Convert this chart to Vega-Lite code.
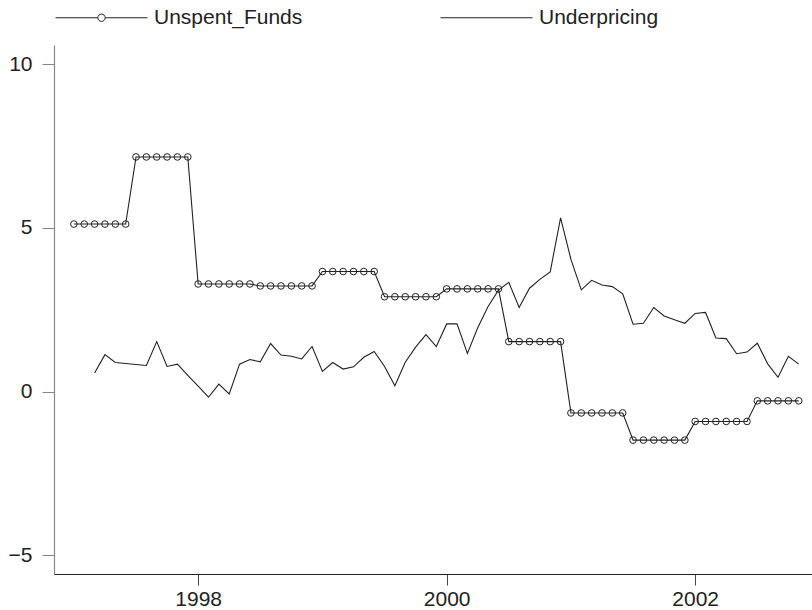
{
  "$schema": "https://vega.github.io/schema/vega-lite/v6.json",
  "width": 758,
  "height": 529,
  "autosize": "none",
  "padding": {"left": 54, "top": 45, "right": 0, "bottom": 36},
  "background": "white",
  "config": {"view": {"stroke": null}, "font": "Liberation Sans"},
  "datasets": {
    "unspent": [
      {"date": 1997.0, "series": "Unspent_Funds", "value": 5.12},
      {"date": 1997.0833, "series": "Unspent_Funds", "value": 5.12},
      {"date": 1997.1667, "series": "Unspent_Funds", "value": 5.12},
      {"date": 1997.25, "series": "Unspent_Funds", "value": 5.12},
      {"date": 1997.3333, "series": "Unspent_Funds", "value": 5.12},
      {"date": 1997.4167, "series": "Unspent_Funds", "value": 5.12},
      {"date": 1997.5, "series": "Unspent_Funds", "value": 7.17},
      {"date": 1997.5833, "series": "Unspent_Funds", "value": 7.17},
      {"date": 1997.6667, "series": "Unspent_Funds", "value": 7.17},
      {"date": 1997.75, "series": "Unspent_Funds", "value": 7.17},
      {"date": 1997.8333, "series": "Unspent_Funds", "value": 7.17},
      {"date": 1997.9167, "series": "Unspent_Funds", "value": 7.17},
      {"date": 1998.0, "series": "Unspent_Funds", "value": 3.29},
      {"date": 1998.0833, "series": "Unspent_Funds", "value": 3.29},
      {"date": 1998.1667, "series": "Unspent_Funds", "value": 3.29},
      {"date": 1998.25, "series": "Unspent_Funds", "value": 3.29},
      {"date": 1998.3333, "series": "Unspent_Funds", "value": 3.29},
      {"date": 1998.4167, "series": "Unspent_Funds", "value": 3.29},
      {"date": 1998.5, "series": "Unspent_Funds", "value": 3.23},
      {"date": 1998.5833, "series": "Unspent_Funds", "value": 3.23},
      {"date": 1998.6667, "series": "Unspent_Funds", "value": 3.23},
      {"date": 1998.75, "series": "Unspent_Funds", "value": 3.23},
      {"date": 1998.8333, "series": "Unspent_Funds", "value": 3.23},
      {"date": 1998.9167, "series": "Unspent_Funds", "value": 3.23},
      {"date": 1999.0, "series": "Unspent_Funds", "value": 3.67},
      {"date": 1999.0833, "series": "Unspent_Funds", "value": 3.67},
      {"date": 1999.1667, "series": "Unspent_Funds", "value": 3.67},
      {"date": 1999.25, "series": "Unspent_Funds", "value": 3.67},
      {"date": 1999.3333, "series": "Unspent_Funds", "value": 3.67},
      {"date": 1999.4167, "series": "Unspent_Funds", "value": 3.67},
      {"date": 1999.5, "series": "Unspent_Funds", "value": 2.9},
      {"date": 1999.5833, "series": "Unspent_Funds", "value": 2.9},
      {"date": 1999.6667, "series": "Unspent_Funds", "value": 2.9},
      {"date": 1999.75, "series": "Unspent_Funds", "value": 2.9},
      {"date": 1999.8333, "series": "Unspent_Funds", "value": 2.9},
      {"date": 1999.9167, "series": "Unspent_Funds", "value": 2.9},
      {"date": 2000.0, "series": "Unspent_Funds", "value": 3.14},
      {"date": 2000.0833, "series": "Unspent_Funds", "value": 3.14},
      {"date": 2000.1667, "series": "Unspent_Funds", "value": 3.14},
      {"date": 2000.25, "series": "Unspent_Funds", "value": 3.14},
      {"date": 2000.3333, "series": "Unspent_Funds", "value": 3.14},
      {"date": 2000.4167, "series": "Unspent_Funds", "value": 3.14},
      {"date": 2000.5, "series": "Unspent_Funds", "value": 1.53},
      {"date": 2000.5833, "series": "Unspent_Funds", "value": 1.53},
      {"date": 2000.6667, "series": "Unspent_Funds", "value": 1.53},
      {"date": 2000.75, "series": "Unspent_Funds", "value": 1.53},
      {"date": 2000.8333, "series": "Unspent_Funds", "value": 1.53},
      {"date": 2000.9167, "series": "Unspent_Funds", "value": 1.53},
      {"date": 2001.0, "series": "Unspent_Funds", "value": -0.65},
      {"date": 2001.0833, "series": "Unspent_Funds", "value": -0.65},
      {"date": 2001.1667, "series": "Unspent_Funds", "value": -0.65},
      {"date": 2001.25, "series": "Unspent_Funds", "value": -0.65},
      {"date": 2001.3333, "series": "Unspent_Funds", "value": -0.65},
      {"date": 2001.4167, "series": "Unspent_Funds", "value": -0.65},
      {"date": 2001.5, "series": "Unspent_Funds", "value": -1.48},
      {"date": 2001.5833, "series": "Unspent_Funds", "value": -1.48},
      {"date": 2001.6667, "series": "Unspent_Funds", "value": -1.48},
      {"date": 2001.75, "series": "Unspent_Funds", "value": -1.48},
      {"date": 2001.8333, "series": "Unspent_Funds", "value": -1.48},
      {"date": 2001.9167, "series": "Unspent_Funds", "value": -1.48},
      {"date": 2002.0, "series": "Unspent_Funds", "value": -0.91},
      {"date": 2002.0833, "series": "Unspent_Funds", "value": -0.91},
      {"date": 2002.1667, "series": "Unspent_Funds", "value": -0.91},
      {"date": 2002.25, "series": "Unspent_Funds", "value": -0.91},
      {"date": 2002.3333, "series": "Unspent_Funds", "value": -0.91},
      {"date": 2002.4167, "series": "Unspent_Funds", "value": -0.91},
      {"date": 2002.5, "series": "Unspent_Funds", "value": -0.28},
      {"date": 2002.5833, "series": "Unspent_Funds", "value": -0.28},
      {"date": 2002.6667, "series": "Unspent_Funds", "value": -0.28},
      {"date": 2002.75, "series": "Unspent_Funds", "value": -0.28},
      {"date": 2002.8333, "series": "Unspent_Funds", "value": -0.28}
    ],
    "under": [
      {"date": 1997.1667, "series": "Underpricing", "value": 0.57},
      {"date": 1997.25, "series": "Underpricing", "value": 1.13},
      {"date": 1997.3333, "series": "Underpricing", "value": 0.89},
      {"date": 1997.4167, "series": "Underpricing", "value": 0.86},
      {"date": 1997.5, "series": "Underpricing", "value": 0.83},
      {"date": 1997.5833, "series": "Underpricing", "value": 0.8},
      {"date": 1997.6667, "series": "Underpricing", "value": 1.53},
      {"date": 1997.75, "series": "Underpricing", "value": 0.77},
      {"date": 1997.8333, "series": "Underpricing", "value": 0.84},
      {"date": 1997.9167, "series": "Underpricing", "value": 0.5},
      {"date": 1998.0, "series": "Underpricing", "value": 0.17},
      {"date": 1998.0833, "series": "Underpricing", "value": -0.17},
      {"date": 1998.1667, "series": "Underpricing", "value": 0.23},
      {"date": 1998.25, "series": "Underpricing", "value": -0.07},
      {"date": 1998.3333, "series": "Underpricing", "value": 0.84},
      {"date": 1998.4167, "series": "Underpricing", "value": 0.98},
      {"date": 1998.5, "series": "Underpricing", "value": 0.91},
      {"date": 1998.5833, "series": "Underpricing", "value": 1.47},
      {"date": 1998.6667, "series": "Underpricing", "value": 1.12},
      {"date": 1998.75, "series": "Underpricing", "value": 1.08},
      {"date": 1998.8333, "series": "Underpricing", "value": 1.0},
      {"date": 1998.9167, "series": "Underpricing", "value": 1.38},
      {"date": 1999.0, "series": "Underpricing", "value": 0.62},
      {"date": 1999.0833, "series": "Underpricing", "value": 0.89},
      {"date": 1999.1667, "series": "Underpricing", "value": 0.69},
      {"date": 1999.25, "series": "Underpricing", "value": 0.76},
      {"date": 1999.3333, "series": "Underpricing", "value": 1.05},
      {"date": 1999.4167, "series": "Underpricing", "value": 1.23},
      {"date": 1999.5, "series": "Underpricing", "value": 0.77},
      {"date": 1999.5833, "series": "Underpricing", "value": 0.18},
      {"date": 1999.6667, "series": "Underpricing", "value": 0.9},
      {"date": 1999.75, "series": "Underpricing", "value": 1.36},
      {"date": 1999.8333, "series": "Underpricing", "value": 1.74},
      {"date": 1999.9167, "series": "Underpricing", "value": 1.38},
      {"date": 2000.0, "series": "Underpricing", "value": 2.07},
      {"date": 2000.0833, "series": "Underpricing", "value": 2.07},
      {"date": 2000.1667, "series": "Underpricing", "value": 1.17},
      {"date": 2000.25, "series": "Underpricing", "value": 1.95},
      {"date": 2000.3333, "series": "Underpricing", "value": 2.6},
      {"date": 2000.4167, "series": "Underpricing", "value": 3.1},
      {"date": 2000.5, "series": "Underpricing", "value": 3.34},
      {"date": 2000.5833, "series": "Underpricing", "value": 2.57},
      {"date": 2000.6667, "series": "Underpricing", "value": 3.16},
      {"date": 2000.75, "series": "Underpricing", "value": 3.43},
      {"date": 2000.8333, "series": "Underpricing", "value": 3.66},
      {"date": 2000.9167, "series": "Underpricing", "value": 5.31},
      {"date": 2001.0, "series": "Underpricing", "value": 4.04},
      {"date": 2001.0833, "series": "Underpricing", "value": 3.11},
      {"date": 2001.1667, "series": "Underpricing", "value": 3.4},
      {"date": 2001.25, "series": "Underpricing", "value": 3.26},
      {"date": 2001.3333, "series": "Underpricing", "value": 3.21},
      {"date": 2001.4167, "series": "Underpricing", "value": 2.99},
      {"date": 2001.5, "series": "Underpricing", "value": 2.06},
      {"date": 2001.5833, "series": "Underpricing", "value": 2.09},
      {"date": 2001.6667, "series": "Underpricing", "value": 2.57},
      {"date": 2001.75, "series": "Underpricing", "value": 2.31},
      {"date": 2001.8333, "series": "Underpricing", "value": 2.2},
      {"date": 2001.9167, "series": "Underpricing", "value": 2.09},
      {"date": 2002.0, "series": "Underpricing", "value": 2.39},
      {"date": 2002.0833, "series": "Underpricing", "value": 2.42},
      {"date": 2002.1667, "series": "Underpricing", "value": 1.64},
      {"date": 2002.25, "series": "Underpricing", "value": 1.62},
      {"date": 2002.3333, "series": "Underpricing", "value": 1.16},
      {"date": 2002.4167, "series": "Underpricing", "value": 1.21},
      {"date": 2002.5, "series": "Underpricing", "value": 1.48},
      {"date": 2002.5833, "series": "Underpricing", "value": 0.85},
      {"date": 2002.6667, "series": "Underpricing", "value": 0.44},
      {"date": 2002.75, "series": "Underpricing", "value": 1.08},
      {"date": 2002.8333, "series": "Underpricing", "value": 0.84}
    ]
  },
  "encoding": {
    "x": {
      "field": "date",
      "type": "quantitative",
      "scale": {"domain": [1996.84, 2002.94], "nice": false, "zero": false},
      "axis": {
        "title": null,
        "values": [1998, 2000, 2002],
        "format": "d",
        "grid": false,
        "domainColor": "#222222",
        "domainWidth": 1.2,
        "tickColor": "#444444",
        "tickSize": 11,
        "labelFontSize": 21,
        "labelColor": "#222222",
        "labelPadding": 3
      }
    },
    "y": {
      "field": "value",
      "type": "quantitative",
      "scale": {"domain": [-5.57, 10.59], "nice": false, "zero": false},
      "axis": {
        "title": null,
        "values": [-5, 0, 5, 10],
        "format": "d",
        "grid": false,
        "domainColor": "#888888",
        "domainWidth": 1.2,
        "tickColor": "#888888",
        "tickSize": 12,
        "labelFontSize": 21,
        "labelColor": "#222222",
        "labelPadding": 10
      }
    }
  },
  "layer": [
    {
      "data": {"name": "unspent"},
      "mark": {"type": "line", "strokeWidth": 1.1},
      "encoding": {
        "stroke": {
          "field": "series",
          "type": "nominal",
          "scale": {"domain": ["Unspent_Funds", "Underpricing"], "range": ["#222222", "#222222"]},
          "legend": {
            "title": null,
            "orient": "none",
            "direction": "horizontal",
            "legendX": 1,
            "legendY": -74,
            "padding": 0,
            "symbolSize": 8464,
            "symbolStrokeWidth": 1,
            "labelFontSize": 21,
            "labelColor": "#222222",
            "labelOffset": 6,
            "columnPadding": 135,
            "encode": {
              "symbols": {
                "update": {
                  "shape": {"signal": "datum.value === 'Unspent_Funds' ? 'M-1,0H-0.08M0.08,0H1M0.08,0A0.08,0.08,0,1,1,-0.08,0A0.08,0.08,0,1,1,0.08,0' : 'M-1,0H1'"},
                  "fill": {"value": "transparent"},
                  "stroke": {"value": "#222222"},
                  "strokeWidth": {"value": 1}
                }
              }
            }
          }
        }
      }
    },
    {
      "data": {"name": "under"},
      "mark": {"type": "line", "strokeWidth": 1.1},
      "encoding": {
        "stroke": {"field": "series", "type": "nominal"}
      }
    },
    {
      "data": {"name": "unspent"},
      "mark": {"type": "point", "shape": "circle", "filled": false, "stroke": "#222222", "strokeWidth": 1, "size": 44, "opacity": 1}
    }
  ]
}
